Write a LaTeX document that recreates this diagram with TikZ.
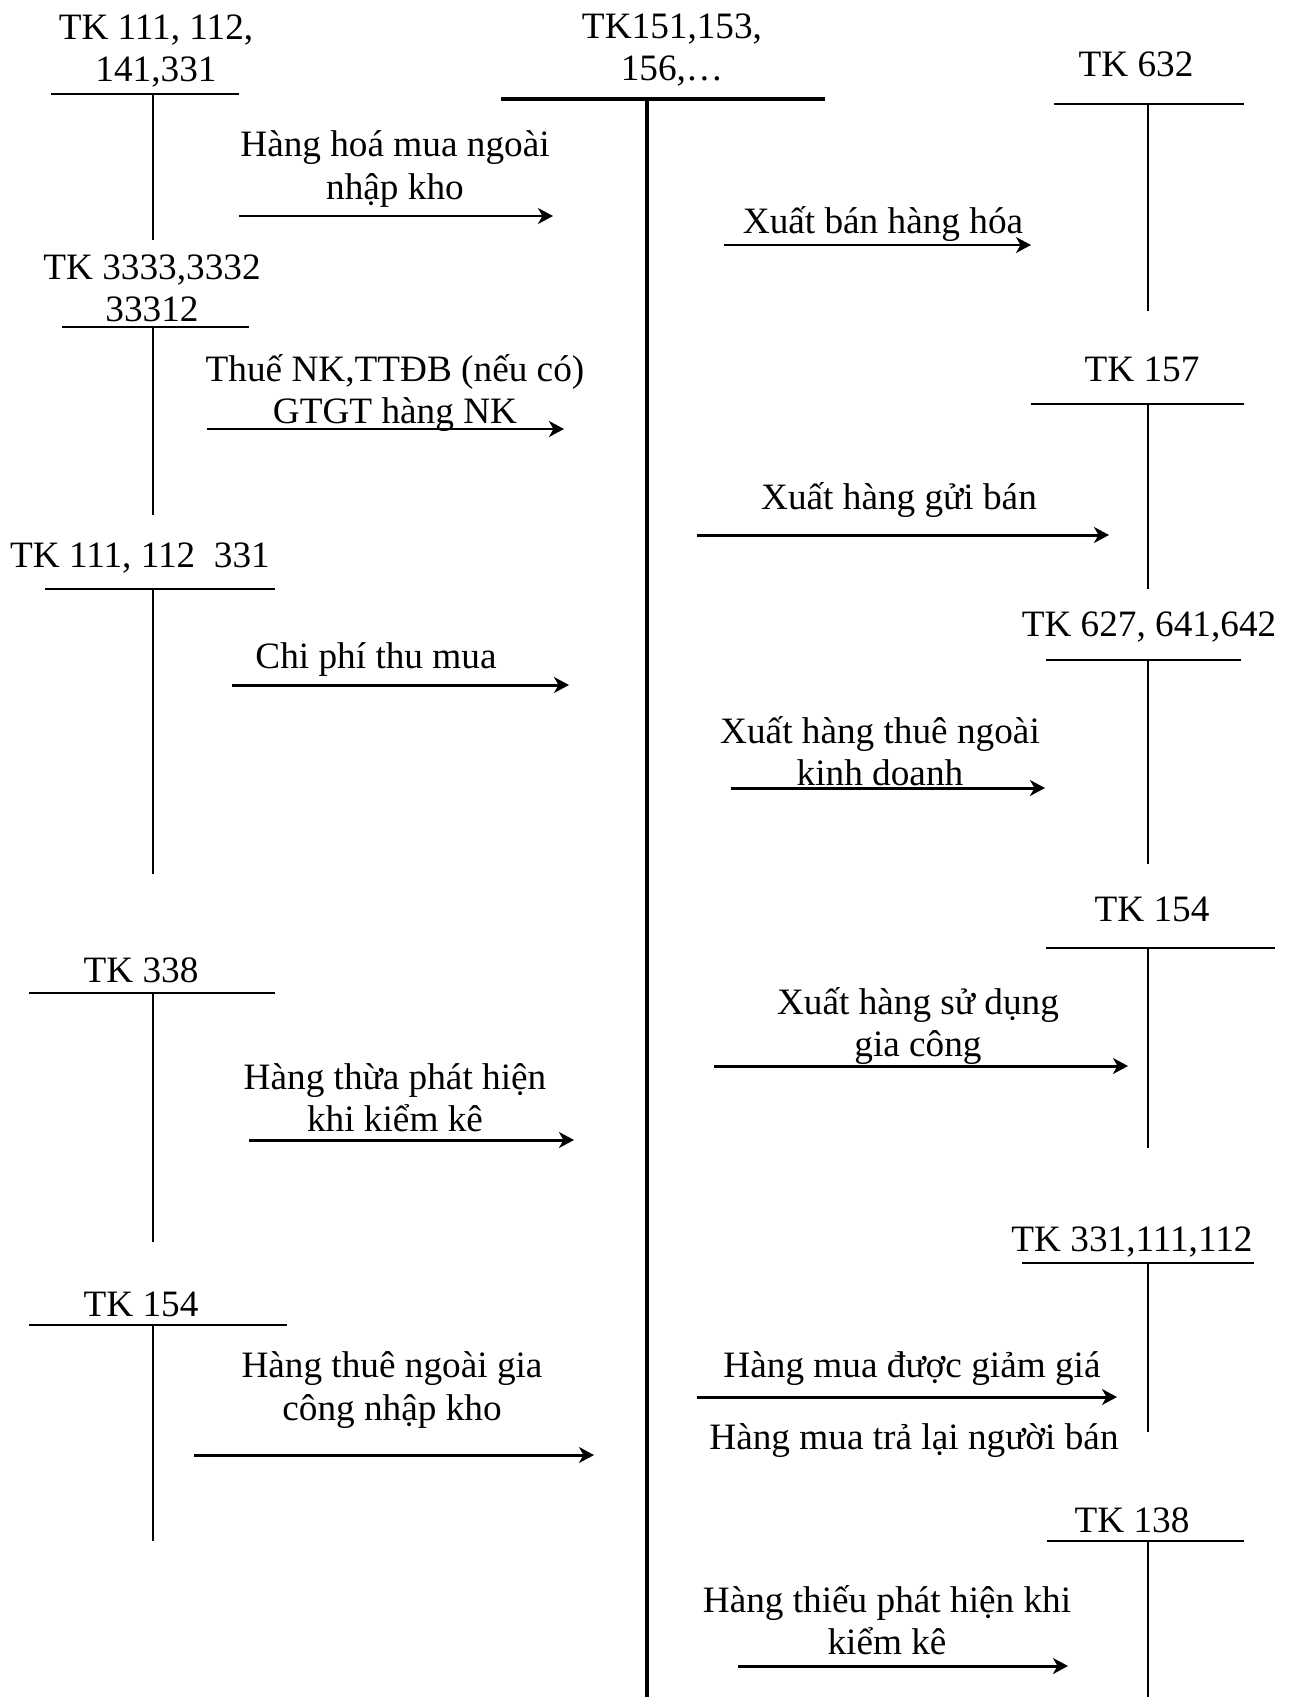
\documentclass[tikz,border=0pt]{standalone}
\usepackage{fontspec}
\setmainfont{Liberation Serif}
\usetikzlibrary{arrows.meta}

\tikzset{
  tk/.style={inner sep=0pt, align=center, font=\fontsize{21.2}{24}\selectfont},
  lbl/.style={inner sep=0pt, align=center, yshift=-0.06cm, font=\fontsize{21.2}{24}\selectfont},
  acct/.style={line width=1.1pt},
  main/.style={line width=1.9pt},
  flow/.style={line width=1.7pt, -{Stealth[length=8.5pt,width=9pt,inset=2.5pt]}}
}

\begin{document}
\begin{tikzpicture}[x=0.02cm,y=-0.02cm]
\useasboundingbox (0,0) rectangle (1293,1697);

% main account
\node[tk] (tkM) at (672,50) {TK151,153,\\156,…};
\draw[main] (501,99)--(825,99);
\draw[main] (647,99)--(647,1697);

% left accounts
\node[tk] (tkL1) at (156,51) {TK 111, 112,\\141,331};
\node[tk] (tkL2) at (152,288) {TK 3333,3332\\33312};
\node[tk] (tkL3) at (140,558) {TK 111, 112~~331};
\node[tk] (tkL4) at (141,970) {TK 338};
\node[tk] (tkL5) at (141,1304) {TK 154};

\draw[acct] (51,94)--(239,94);   \draw[acct] (153,94)--(153,240);
\draw[acct] (62,327)--(249,327); \draw[acct] (153,327)--(153,515);
\draw[acct] (45,589)--(275,589); \draw[acct] (153,589)--(153,874);
\draw[acct] (29,993)--(275,993); \draw[acct] (153,993)--(153,1242);
\draw[acct] (29,1325)--(287,1325); \draw[acct] (153,1325)--(153,1541);

% right accounts
\node[tk] (tkR1) at (1136,64) {TK 632};
\node[tk] (tkR2) at (1142,369) {TK 157};
\node[tk] (tkR3) at (1149,627) {TK 627, 641,642};
\node[tk] (tkR4) at (1152,909) {TK 154};
\node[tk] (tkR5) at (1132,1242) {TK 331,111,112};
\node[tk] (tkR6) at (1132,1520) {TK 138};

\draw[acct] (1054,104)--(1244,104); \draw[acct] (1148,104)--(1148,311);
\draw[acct] (1031,404)--(1244,404); \draw[acct] (1148,404)--(1148,589);
\draw[acct] (1046,660)--(1241,660); \draw[acct] (1148,660)--(1148,864);
\draw[acct] (1046,948)--(1275,948); \draw[acct] (1148,948)--(1148,1148);
\draw[acct] (1022,1263)--(1254,1263); \draw[acct] (1148,1263)--(1148,1432);
\draw[acct] (1047,1541)--(1244,1541); \draw[acct] (1148,1541)--(1148,1697);

% left entries
\node[lbl] (nhap) at (395,166) {Hàng hoá mua ngoài\\nhập kho};
\coordinate (nhapA) at (239,216); \coordinate (nhapB) at (553,216);
\draw[flow] (nhapA)--(nhapB);

\node[lbl] (thue) at (395,390) {Thuế NK,TTĐB (nếu có)\\GTGT hàng NK};
\coordinate (thueA) at (207,429); \coordinate (thueB) at (564,429);
\draw[flow] (thueA)--(thueB);

\node[lbl] (chiphi) at (376,657) {Chi phí thu mua};
\coordinate (chiphiA) at (232,685); \coordinate (chiphiB) at (569,685);
\draw[flow] (chiphiA)--(chiphiB);

\node[lbl] (thua) at (395,1095) {Hàng thừa phát hiện\\khi kiểm kê};
\coordinate (thuaA) at (249,1140); \coordinate (thuaB) at (574,1140);
\draw[flow] (thuaA)--(thuaB);

\node[lbl] (giacong) at (392,1387) {Hàng thuê ngoài gia\\công nhập kho};
\coordinate (giacongA) at (194,1455); \coordinate (giacongB) at (594,1455);
\draw[flow] (giacongA)--(giacongB);

% right entries
\node[lbl] (ban) at (883,221) {Xuất bán hàng hóa};
\coordinate (banA) at (724,245); \coordinate (banB) at (1031,245);
\draw[flow] (banA)--(banB);

\node[lbl] (gui) at (899,497) {Xuất hàng gửi bán};
\coordinate (guiA) at (697,535); \coordinate (guiB) at (1109,535);
\draw[flow] (guiA)--(guiB);

\node[lbl] (kd) at (880,748) {Xuất hàng thuê ngoài\\kinh doanh};
\coordinate (kdA) at (731,788); \coordinate (kdB) at (1045,788);
\draw[flow] (kdA)--(kdB);

\node[lbl] (sd) at (918,1023) {Xuất hàng sử dụng\\gia công};
\coordinate (sdA) at (714,1066); \coordinate (sdB) at (1128,1066);
\draw[flow] (sdA)--(sdB);

\node[lbl] (giam) at (912,1366) {Hàng mua được giảm giá};
\coordinate (giamA) at (697,1397); \coordinate (giamB) at (1117,1397);
\draw[flow] (giamA)--(giamB);
\node[lbl] (tralai) at (914,1438) {Hàng mua trả lại người bán};

\node[lbl] (thieu) at (887,1617) {Hàng thiếu phát hiện khi\\kiểm kê};
\coordinate (thieuA) at (738,1666); \coordinate (thieuB) at (1068,1666);
\draw[flow] (thieuA)--(thieuB);
\end{tikzpicture}
\end{document}
